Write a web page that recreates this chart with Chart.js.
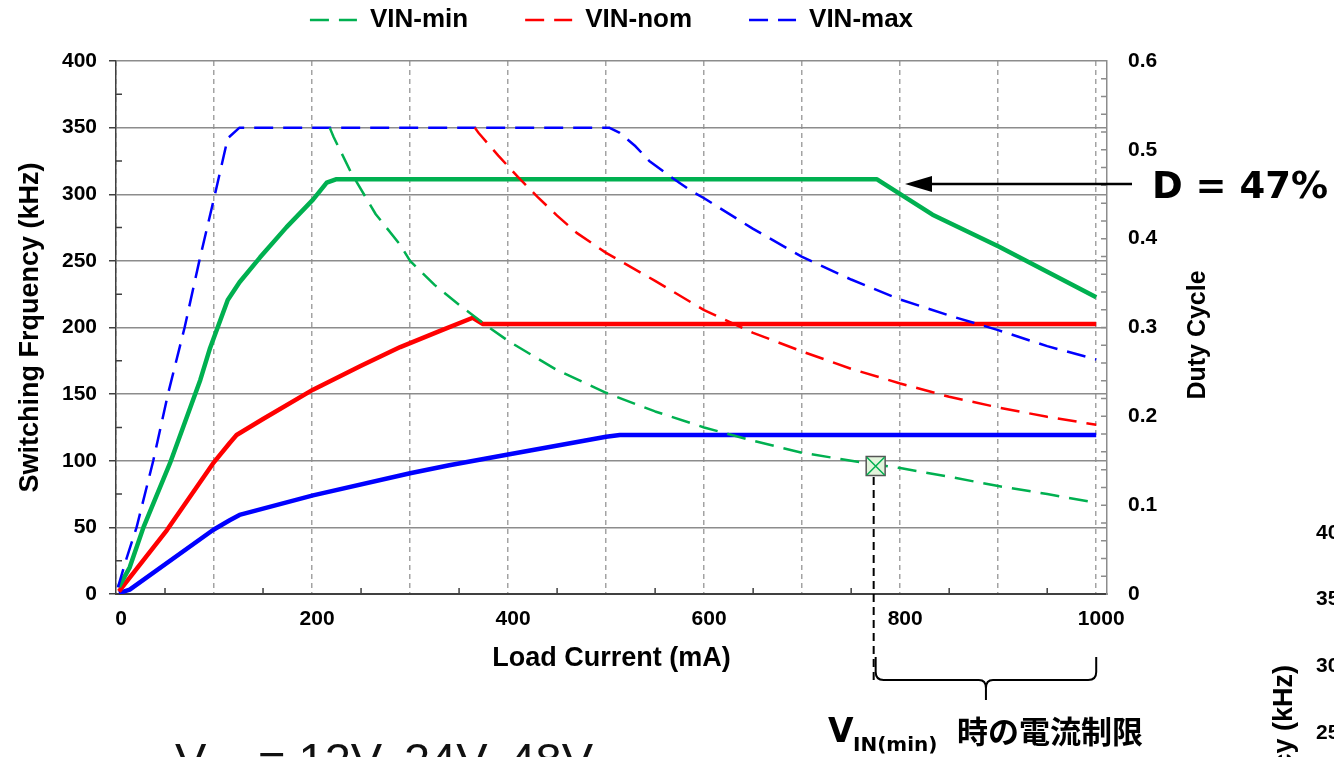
<!DOCTYPE html>
<html>
<head>
<meta charset="utf-8">
<title>Switching Frequency / Duty Cycle vs Load Current</title>
<script src="https://cdn.jsdelivr.net/npm/chart.js@4.4.1/dist/chart.umd.min.js"></script>
<style>
  html, body { margin: 0; padding: 0; background: #fff; overflow: hidden; }
  #wrap { width: 1334px; height: 757px; }
</style>
</head>
<body>
<div id="wrap"><canvas id="myChart" width="1334" height="757"></canvas></div>
<script>
// switching frequency (kHz) vs load current (mA), dashed curves
var vinMinLoad = [218, 222, 240, 265, 290, 300, 325, 350, 375, 400, 450, 500, 550, 600, 650, 700, 750, 800, 850, 900, 950, 1000]
var vinMinFreq = [350, 343, 316, 285, 262, 250, 232, 217, 203, 190, 168, 151, 137, 125, 115, 106, 100, 94.5, 88, 81, 75, 68.5]

var vinNomLoad = [366, 370, 390, 410, 430, 450, 470, 500, 550, 600, 650, 700, 750, 800, 850, 900, 950, 1000]
var vinNomFreq = [350, 346, 329, 313, 298, 284, 271, 256, 235, 213, 196, 182, 169, 158, 148, 140, 133, 127]

var vinMaxLoad = [2, 10, 21, 38, 53, 70, 85, 101, 114, 126, 503, 514, 530, 544, 566, 588, 600, 650, 700, 750, 800, 850, 900, 950, 1000]
var vinMaxFreq = [5, 25, 50, 100, 150, 200, 250, 300, 342, 350, 350, 346, 336, 325, 313, 302, 297, 274, 253, 236, 221, 209, 198, 186, 176]

// duty cycle vs load current, solid curves (right axis)
var dutyMinLoad = [3, 14, 28, 55, 86, 96, 114, 126, 147, 174, 201, 215, 225, 776, 833, 901, 1000]
var dutyMinVal = [0.008, 0.03, 0.075, 0.147, 0.241, 0.277, 0.331, 0.351, 0.379, 0.413, 0.444, 0.463, 0.467, 0.467, 0.427, 0.391, 0.334]

var dutyNomLoad = [3, 52, 99, 116, 123, 150, 201, 250, 290, 330, 364, 374, 1000]
var dutyNomVal = [0.003, 0.072, 0.147, 0.170, 0.179, 0.197, 0.230, 0.257, 0.278, 0.296, 0.311, 0.304, 0.304]

var dutyMaxLoad = [3, 14, 99, 116, 126, 201, 300, 340, 400, 500, 514, 1000]
var dutyMaxVal = [0.001, 0.005, 0.072, 0.083, 0.089, 0.111, 0.136, 0.145, 0.157, 0.177, 0.179, 0.179]

// current limit point at VIN(min)
var limitLoad = [775]
var limitFreq = [96]

var loadTicks = [0, 200, 400, 600, 800, 1000]
var nextChartTicks = ['40', '35', '30', '25']

var GREEN = '#00b050', RED = '#ff0000', BLUE = '#0000ff'

function pts(xs, ys) {
  return xs.map(function(v, i) { return {x: v, y: ys[i]} })
}

var legendHeight = {
  id: 'legendHeight',
  beforeInit: function(chart) {
    var fitLegend = chart.legend.fit
    chart.legend.fit = function() {
      fitLegend.bind(chart.legend)()
      this.height = 111
    }
  }
}

var annotations = {
  id: 'annotations',
  beforeDatasetsDraw: function(chart) {
    var ctx = chart.ctx, a = chart.chartArea
    var x = chart.scales.x, y = chart.scales.y, y2 = chart.scales.y2
    ctx.save()
    ctx.lineWidth = 1.5
    ctx.strokeStyle = '#404040'
    ctx.beginPath()
    for (var v = 25; v < 400; v += 50) {
      var py = y.getPixelForValue(v)
      ctx.moveTo(a.left, py); ctx.lineTo(a.left + 6, py)
    }
    for (var w = 50; w < 1000; w += 100) {
      var px = x.getPixelForValue(w)
      ctx.moveTo(px, a.bottom); ctx.lineTo(px, a.bottom - 6)
    }
    ctx.stroke()
    ctx.strokeStyle = '#8c8c8c'
    ctx.beginPath()
    for (var i = 1; i < 30; i++) {
      var py2 = y2.getPixelForValue(i * 0.02)
      ctx.moveTo(a.right - 6, py2); ctx.lineTo(a.right, py2)
    }
    ctx.stroke()
    ctx.restore()
  },
  afterDraw: function(chart) {
    var ctx = chart.ctx
    var x = chart.scales.x, y = chart.scales.y
    var mx = x.getPixelForValue(limitLoad[0])
    var my = y.getPixelForValue(limitFreq[0])
    var bx1 = mx, bx2 = x.getPixelForValue(1000), bm = (bx1 + bx2) / 2

    ctx.save()
    // drop line from the limit point
    ctx.strokeStyle = '#000'
    ctx.lineWidth = 2
    ctx.setLineDash([8, 5])
    ctx.beginPath()
    ctx.moveTo(mx - 2, my + 11)
    ctx.lineTo(mx - 2, 680)
    ctx.stroke()
    ctx.setLineDash([])

    // brace
    ctx.beginPath()
    ctx.moveTo(bx1, 657)
    ctx.lineTo(bx1, 672)
    ctx.quadraticCurveTo(bx1, 680, bx1 + 8, 680)
    ctx.lineTo(bm - 7, 680)
    ctx.quadraticCurveTo(bm, 680, bm, 688)
    ctx.lineTo(bm, 700)
    ctx.moveTo(bm, 688)
    ctx.quadraticCurveTo(bm, 680, bm + 7, 680)
    ctx.lineTo(bx2 - 8, 680)
    ctx.quadraticCurveTo(bx2, 680, bx2, 672)
    ctx.lineTo(bx2, 657)
    ctx.stroke()

    // arrow to the D = 47% level
    ctx.lineWidth = 2.5
    ctx.beginPath()
    ctx.moveTo(1132, 184)
    ctx.lineTo(928, 184)
    ctx.stroke()
    ctx.fillStyle = '#000'
    ctx.beginPath()
    ctx.moveTo(905, 184)
    ctx.lineTo(932, 176)
    ctx.lineTo(932, 192)
    ctx.closePath()
    ctx.fill()

    ctx.textAlign = 'left'
    ctx.textBaseline = 'alphabetic'
    ctx.font = 'bold 37px "DejaVu Sans"'
    ctx.fillText('D = 47%', 1152, 198)

    ctx.font = 'bold 33px "DejaVu Sans"'
    ctx.fillText('V', 828, 742)
    ctx.font = 'bold 20px "DejaVu Sans"'
    ctx.fillText('IN(min)', 853, 751)
    ctx.font = 'bold 31px "Noto Sans CJK JP"'
    ctx.fillText('時の電流制限', 957, 743)

    // big caption, cut off at the bottom edge
    ctx.fillStyle = '#111'
    ctx.font = '47px "Liberation Sans"'
    ctx.fillText('V', 175, 776)
    ctx.font = '30px "Liberation Sans"'
    ctx.fillText('IN', 206, 786)
    ctx.font = '47px "Liberation Sans"'
    ctx.fillText('= 12V, 24V, 48V', 258, 776)

    ctx.fillStyle = '#000'
    ctx.font = 'bold 25px "Liberation Sans"'
    ctx.textAlign = 'center'
    ctx.textBaseline = 'middle'
    ctx.translate(1198, 335)
    ctx.rotate(-Math.PI / 2)
    ctx.fillText('Duty Cycle', 0, 0)
    ctx.setTransform(1, 0, 0, 1, 0, 0)

    // edge of the next chart
    ctx.font = 'bold 21px "Liberation Sans"'
    ctx.textAlign = 'left'
    nextChartTicks.forEach(function(t, i) {
      ctx.fillText(t, 1316, 533 + i * 66.6)
    })
    ctx.font = 'bold 27px "Liberation Sans"'
    ctx.textAlign = 'right'
    ctx.translate(1285, 665)
    ctx.rotate(-Math.PI / 2)
    ctx.fillText('Switching Frequency (kHz)', 0, 0)
    ctx.restore()
  }
}

var tickFont = {family: '"Liberation Sans", Arial, sans-serif', size: 21, weight: 'bold'}
var titleFont = {family: '"Liberation Sans", Arial, sans-serif', size: 27, weight: 'bold'}

var ctx = document.getElementById('myChart')
var myChart = new Chart(ctx, {
  type: 'line',
  data: {
    datasets: [{
      label: 'VIN-min',
      data: pts(vinMinLoad, vinMinFreq),
      yAxisID: 'y',
      borderColor: GREEN,
      backgroundColor: GREEN,
      borderWidth: 2.5,
      borderDash: [19, 10]
    }, {
      label: 'VIN-nom',
      data: pts(vinNomLoad, vinNomFreq),
      yAxisID: 'y',
      borderColor: RED,
      backgroundColor: RED,
      borderWidth: 2.5,
      borderDash: [19, 10]
    }, {
      label: 'VIN-max',
      data: pts(vinMaxLoad, vinMaxFreq),
      yAxisID: 'y',
      borderColor: BLUE,
      backgroundColor: BLUE,
      borderWidth: 2.5,
      borderDash: [19, 10]
    }, {
      label: 'D VIN-min',
      data: pts(dutyMinLoad, dutyMinVal),
      yAxisID: 'y2',
      borderColor: GREEN,
      borderWidth: 4.5
    }, {
      label: 'D VIN-nom',
      data: pts(dutyNomLoad, dutyNomVal),
      yAxisID: 'y2',
      borderColor: RED,
      borderWidth: 4.5
    }, {
      label: 'D VIN-max',
      data: pts(dutyMaxLoad, dutyMaxVal),
      yAxisID: 'y2',
      borderColor: BLUE,
      borderWidth: 4.5
    }, {
      label: 'limit',
      data: pts(limitLoad, limitFreq),
      yAxisID: 'y',
      showLine: false,
      pointStyle: 'rect',
      pointRadius: 13.4,
      pointBackgroundColor: '#e3f4dc',
      pointBorderColor: '#555555',
      pointBorderWidth: 1.5,
      order: -2
    }, {
      label: 'limit x',
      data: pts(limitLoad, limitFreq),
      yAxisID: 'y',
      showLine: false,
      pointStyle: 'crossRot',
      pointRadius: 12.5,
      pointBorderColor: GREEN,
      pointBorderWidth: 1.5,
      order: -3
    }]
  },
  options: {
    responsive: false,
    animation: false,
    events: [],
    layout: {padding: {top: -50, left: 0, right: 0, bottom: 0}},
    elements: {
      point: {radius: 0},
      line: {tension: 0, borderJoinStyle: 'round', borderCapStyle: 'butt'}
    },
    plugins: {
      legend: {
        position: 'top',
        fullSize: false,
        labels: {
          usePointStyle: true,
          pointStyle: 'line',
          pointStyleWidth: 47,
          padding: 57,
          color: '#000',
          font: {family: '"Liberation Sans", Arial, sans-serif', size: 26, weight: 'bold'},
          filter: function(item) { return item.datasetIndex < 3 },
          generateLabels: function(chart) {
            var items = Chart.defaults.plugins.legend.labels.generateLabels(chart)
            items.forEach(function(item) {
              var ds = chart.data.datasets[item.datasetIndex]
              item.lineDash = ds.borderDash || []
              item.lineWidth = 2.5
              item.strokeStyle = ds.borderColor
            })
            return items
          }
        }
      },
      tooltip: {enabled: false}
    },
    scales: {
      x: {
        type: 'linear',
        min: 0,
        max: 1011,
        ticks: {
          stepSize: 100,
          maxTicksLimit: 20,
          includeBounds: false,
          autoSkip: false,
          maxRotation: 0,
          padding: 13,
          labelOffset: 5,
          color: '#000',
          font: tickFont,
          callback: function(v) { return loadTicks.indexOf(Math.round(v)) >= 0 ? String(Math.round(v)) : '' }
        },
        grid: {color: '#a3a3a3', lineWidth: 1.5, drawTicks: false},
        border: {color: '#404040', width: 2, dash: [5, 4]},
        title: {display: true, text: 'Load Current (mA)', color: '#000', font: titleFont, padding: {top: 0, bottom: 82}},
        afterFit: function(scale) { scale.height = 163 }
      },
      y: {
        position: 'left',
        min: 0,
        max: 400,
        ticks: {stepSize: 50, padding: 12, color: '#000', font: tickFont},
        grid: {color: '#8c8c8c', lineWidth: 1.5, tickLength: 7, tickColor: '#404040', tickWidth: 1.5},
        border: {color: '#404040', width: 1.5},
        title: {display: true, text: 'Switching Frquency (kHz)', color: '#000', font: titleFont, padding: {top: 14, bottom: 0}},
        afterFit: function(scale) { scale.width = 116 }
      },
      y2: {
        position: 'right',
        min: 0,
        max: 0.6,
        ticks: {
          stepSize: 0.1,
          padding: 21,
          color: '#000',
          font: tickFont,
          callback: function(v) { return v === 0 ? '0' : v.toFixed(1) }
        },
        grid: {drawOnChartArea: false, drawTicks: false},
        border: {color: '#8c8c8c', width: 1.5},
        afterFit: function(scale) { scale.width = 227 }
      }
    }
  },
  plugins: [legendHeight, annotations]
})
</script>
</body>
</html>
